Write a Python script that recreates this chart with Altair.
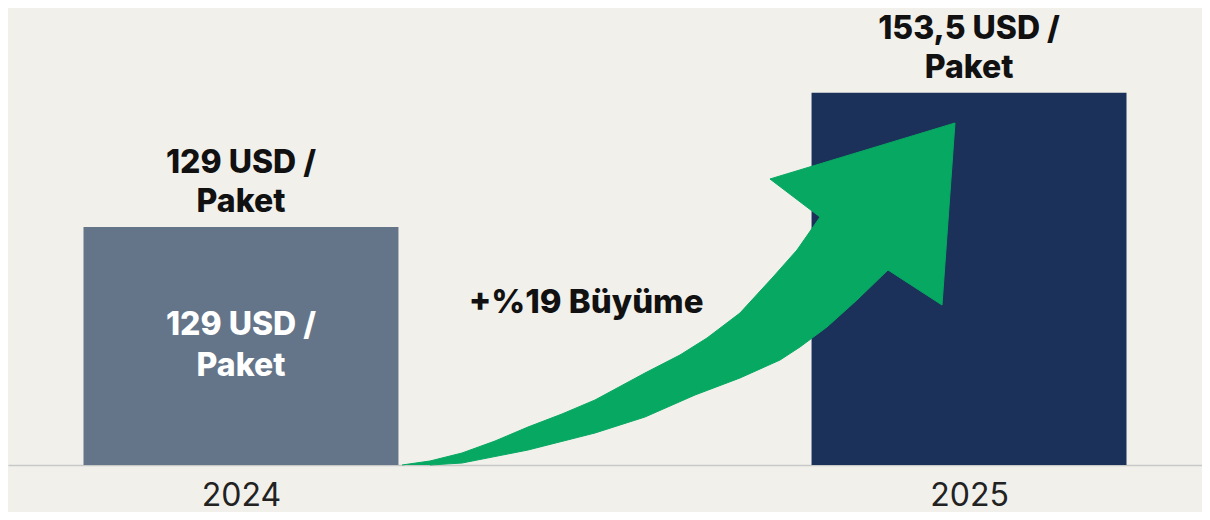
import altair as alt
import pandas as pd

# ---- data ----
years = [2024, 2025]
prices = [129.0, 153.5]
top_labels = ["129 USD /\nPaket", "153,5 USD /\nPaket"]
inner_labels = ["129 USD /\nPaket", ""]
bar_colors = ["#64758a", "#1b315a"]

growth_label = ["+%19 Büyüme"]
growth_x = [2024.474]
growth_y = [113.3]

# growth arrow outline (x in years, y in USD)
arrow_x = [2024.2212, 2024.2596, 2024.3036, 2024.3489, 2024.3942, 2024.4409, 2024.4863,
           2024.5549, 2024.6030, 2024.6401, 2024.6854, 2024.7308, 2024.7637, 2024.7953,
           2024.7266, 2024.9807, 2024.9629, 2024.8887, 2024.8461, 2024.8049, 2024.7678,
           2024.7404, 2024.6854, 2024.6236, 2024.5549, 2024.4863, 2024.3942, 2024.3036,
           2024.2596]
arrow_y = [85.5, 86.23, 87.69, 89.88, 92.44, 94.82, 97.38,
           102.31, 105.60, 108.70, 113.27, 119.85, 124.78, 130.81,
           137.76, 147.99, 114.73, 121.13, 115.65, 110.71, 107.06,
           104.68, 101.40, 98.29, 94.27, 91.35, 88.24, 85.86,
           85.5]

X_DOMAIN = [2023.68, 2025.32]
Y_DOMAIN = [85.5, 169.0]
BAR_HALF = 0.2163

FONT = "Inter"

bars_df = pd.DataFrame({
    "year": years,
    "price": prices,
    "top": top_labels,
    "inner": inner_labels,
    "base": [Y_DOMAIN[0]] * len(years),
})
arrow_df = pd.DataFrame({"i": list(range(len(arrow_x))), "x": arrow_x, "y": arrow_y})
growth_df = pd.DataFrame({"label": growth_label, "x": growth_x, "y": growth_y})

x_scale = alt.Scale(domain=X_DOMAIN, nice=False, zero=False)
y_scale = alt.Scale(domain=Y_DOMAIN, nice=False, zero=False)
x_axis = alt.Axis(values=years, format="d", title=None, grid=False, ticks=False,
                  domainColor="#c8c8c6", domainWidth=1.5, labelFont=FONT,
                  labelFontSize=32, labelColor="#222222", labelPadding=40,
                  labelBaseline="alphabetic", labelFlush=False)

base = alt.Chart(bars_df)

bars = base.transform_calculate(
    x0=f"datum.year - {BAR_HALF}", x1=f"datum.year + {BAR_HALF}"
).mark_rect().encode(
    x=alt.X("x0:Q", scale=x_scale, axis=x_axis),
    x2="x1:Q",
    y=alt.Y("price:Q", scale=y_scale, axis=None),
    y2="base:Q",
    color=alt.Color("year:N", scale=alt.Scale(domain=years, range=bar_colors), legend=None),
)

top_text = base.mark_text(
    font=FONT, fontSize=32, fontWeight=800, color="#111111",
    lineBreak="\n", lineHeight=39, baseline="alphabetic", align="center", dy=-54,
).encode(
    x=alt.X("year:Q", scale=x_scale, axis=x_axis),
    y=alt.Y("price:Q", scale=y_scale, axis=None),
    text="top:N",
)

inner_text = base.transform_calculate(
    mid="(datum.price + datum.base) / 2"
).mark_text(
    font=FONT, fontSize=32, fontWeight=800, color="#ffffff",
    lineBreak="\n", lineHeight=41, baseline="middle", align="center", dy=-21,
).encode(
    x=alt.X("year:Q", scale=x_scale, axis=x_axis),
    y=alt.Y("mid:Q", scale=y_scale, axis=None),
    text="inner:N",
)

arrow = alt.Chart(arrow_df).mark_line(
    fill="#07a862", stroke="#07a862", strokeWidth=1, interpolate="linear",
).encode(
    x=alt.X("x:Q", scale=x_scale, axis=x_axis),
    y=alt.Y("y:Q", scale=y_scale, axis=None),
    order="i:Q",
)

growth = alt.Chart(growth_df).mark_text(
    font=FONT, fontSize=33, fontWeight=800, color="#111111",
    baseline="alphabetic", align="center",
).encode(
    x=alt.X("x:Q", scale=x_scale, axis=x_axis),
    y=alt.Y("y:Q", scale=y_scale, axis=None),
    text="label:N",
)

chart = alt.layer(bars, arrow, top_text, inner_text, growth).properties(
    width=1194, height=457,
    padding={"left": 0, "top": 0, "right": 0, "bottom": 47},
    autosize=alt.AutoSizeParams(type="none"),
    background="#f1f0eb",
).configure_view(stroke=None)

chart.save("out.html", embed_options={"renderer": "svg", "actions": False})
